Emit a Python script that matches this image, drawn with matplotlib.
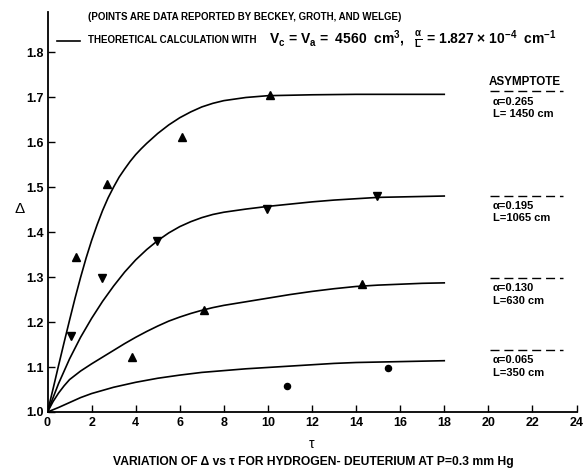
import matplotlib
matplotlib.use("Agg")
import matplotlib.pyplot as plt
from matplotlib import font_manager as fm
from matplotlib.lines import Line2D

# ---- theoretical curves (Δ vs τ) ----
tau_a = [0, 0.25, 0.5, 0.75, 1, 1.25, 1.5, 1.75, 2, 2.25, 2.5, 2.75, 3, 3.25, 3.5, 3.75,
         4, 4.25, 4.5, 4.75, 5, 5.5, 6, 6.5, 7, 7.5, 8, 9, 10, 11, 12, 14, 16, 18]
delta_a = [1.000, 1.051, 1.103, 1.154, 1.204, 1.253, 1.299, 1.342, 1.381, 1.416, 1.448,
           1.476, 1.500, 1.522, 1.540, 1.557, 1.572, 1.585, 1.597, 1.608, 1.619, 1.638,
           1.654, 1.667, 1.678, 1.686, 1.692, 1.699, 1.703, 1.704, 1.705, 1.706, 1.706, 1.706]

tau_b = [0, 0.5, 1, 1.5, 2, 2.5, 3, 3.5, 4, 4.5, 5, 5.5, 6, 6.5, 7, 7.5, 8, 9, 10, 11,
         12, 13, 14, 15, 16, 17, 18]
delta_b = [1.000, 1.063, 1.118, 1.166, 1.208, 1.246, 1.280, 1.311, 1.338, 1.361, 1.381,
           1.398, 1.412, 1.423, 1.432, 1.439, 1.444, 1.451, 1.457, 1.462, 1.467, 1.471,
           1.474, 1.477, 1.478, 1.479, 1.480]

tau_c = [0, 0.25, 0.5, 0.75, 1, 1.5, 2, 2.5, 3, 3.5, 4, 4.5, 5, 5.5, 6, 6.5, 7, 7.5, 8,
         9, 10, 11, 12, 13, 14, 15, 16, 17, 18]
delta_c = [1.000, 1.023, 1.042, 1.058, 1.072, 1.091, 1.107, 1.122, 1.137, 1.152, 1.166,
           1.179, 1.191, 1.202, 1.211, 1.219, 1.226, 1.232, 1.237, 1.245, 1.253, 1.261,
           1.268, 1.274, 1.279, 1.282, 1.284, 1.286, 1.287]

tau_d = [0, 0.5, 1, 1.5, 2, 2.5, 3, 4, 5, 6, 7, 8, 9, 10, 11, 12, 13, 14, 15, 16, 17, 18]
delta_d = [1.000, 1.010, 1.021, 1.032, 1.041, 1.048, 1.055, 1.066, 1.075, 1.082, 1.088,
           1.092, 1.096, 1.099, 1.102, 1.105, 1.108, 1.110, 1.111, 1.112, 1.113, 1.114]

# ---- measured points (Beckey, Groth and Welge) ----
pts_a_tau = [1.29, 2.69, 6.1, 10.1]
pts_a_delta = [1.345, 1.506, 1.611, 1.704]
pts_b_tau = [1.07, 2.46, 4.95, 9.94, 14.97]
pts_b_delta = [1.170, 1.298, 1.381, 1.451, 1.481]
pts_c_tau = [3.85, 7.10, 14.25]
pts_c_delta = [1.123, 1.227, 1.284]
pts_d_tau = [10.85, 15.46]
pts_d_delta = [1.058, 1.098]

# ---- asymptotes and parameters ----
asymptotes = [1.713, 1.481, 1.298, 1.138]
alpha_labels = ["α=0.265", "α=0.195", "α=0.130", "α=0.065"]
length_labels = ["L= 1450 cm", "L=1065 cm", "L=630 cm", "L=350 cm"]

x_ticks = list(range(0, 25, 2))
y_ticks = [1.0, 1.1, 1.2, 1.3, 1.4, 1.5, 1.6, 1.7, 1.8]
y_ticklabels = ["1.0", "1.1", "1.2", "1.3", "1.4", "1.5", "1.6", "1.7", "1.8"]

# ---- font: a narrow sans face to imitate technical lettering ----
names = {f.name for f in fm.fontManager.ttflist}
if "Liberation Sans Narrow" in names:
    fam = "Liberation Sans Narrow"
else:
    fam = "Liberation Sans"

plt.rcParams["font.family"] = [fam, "DejaVu Sans"]
plt.rcParams["font.weight"] = "bold"
plt.rcParams["mathtext.fontset"] = "custom"
plt.rcParams["mathtext.rm"] = f"{fam}:bold"
plt.rcParams["mathtext.it"] = f"{fam}:bold"
plt.rcParams["mathtext.bf"] = f"{fam}:bold"

W, H = 584, 471
fig = plt.figure(figsize=(W / 100, H / 100), dpi=100)
ax = fig.add_axes([47.5 / W, 59 / H, 529 / W, 400 / H])

lw = 1.2
for t, d in [(tau_a, delta_a), (tau_b, delta_b), (tau_c, delta_c), (tau_d, delta_d)]:
    ax.plot(t, d, color="black", lw=lw, solid_joinstyle="round")

ax.plot(pts_a_tau, pts_a_delta, "^", color="black", ms=5.2, ls="none")
ax.plot(pts_b_tau, pts_b_delta, "v", color="black", ms=5.2, ls="none")
ax.plot(pts_c_tau, pts_c_delta, "^", color="black", ms=5.2, ls="none")
ax.plot(pts_d_tau, pts_d_delta, "o", color="black", ms=4.4, ls="none")

# asymptote markers with parameter labels
for a, al, ll in zip(asymptotes, alpha_labels, length_labels):
    ax.plot([20.08, 23.4], [a, a], color="black", lw=1.0, ls=(0, (6.5, 3.5)),
            clip_on=False)
    ax.annotate(al, (20.2, a), xytext=(0, -7.5), textcoords="offset points",
                ha="left", va="center", fontsize=8.0, annotation_clip=False)
    ax.annotate(ll, (20.2, a), xytext=(0, -16.5), textcoords="offset points",
                ha="left", va="center", fontsize=8.0, annotation_clip=False)
ax.annotate("ASYMPTOTE", (20.0, asymptotes[0]), xytext=(0, 6.5), textcoords="offset points",
            ha="left", va="center", fontsize=8.4, annotation_clip=False)

ax.set_xlim(0, 24)
ax.set_ylim(1.0, 1.889)
ax.set_xticks(x_ticks)
ax.set_yticks(y_ticks)
ax.set_yticklabels(y_ticklabels)
for s in ("top", "right"):
    ax.spines[s].set_visible(False)
for s in ("left", "bottom"):
    ax.spines[s].set_linewidth(1.3)
ax.tick_params(direction="in", length=5, width=1.0, labelsize=9, pad=3.5)
ax.tick_params(axis="y", pad=2.5)

ax.set_xlabel("τ", fontsize=10, labelpad=6)
ax.set_ylabel("Δ", fontsize=11, rotation=0)
ax.yaxis.set_label_coords(-0.052, 0.49)

# header: source note and legend entry
fig.text(88 / W, 1 - 17 / H, "(POINTS ARE DATA REPORTED BY BECKEY, GROTH, AND WELGE)",
         ha="left", va="center", fontsize=7.0)
fig.add_artist(Line2D([57 / W, 80 / W], [1 - 41 / H, 1 - 41 / H], color="black", lw=1.2))
fig.text(88 / W, 1 - 40 / H, "THEORETICAL CALCULATION WITH",
         ha="left", va="center", fontsize=7.0)
fig.text(269 / W, 1 - 40 / H,
         r"V$_c$ = V$_a$ =  4560  cm$^3$,   $\frac{α}{L}$ = 1.827 × 10$^{-4}$  cm$^{-1}$",
         ha="left", va="center", fontsize=10.0)

fig.text(313 / W, 1 - 462 / H, "VARIATION OF Δ vs τ FOR HYDROGEN- DEUTERIUM AT P=0.3 mm Hg",
         ha="center", va="center", fontsize=8.7)

fig.savefig("out.png", dpi=100)
